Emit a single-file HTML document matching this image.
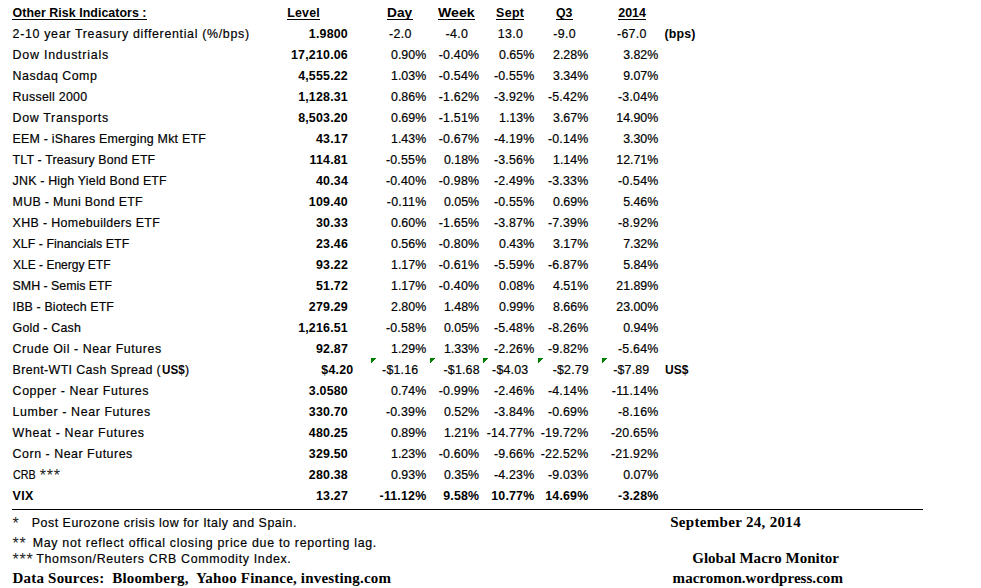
<!DOCTYPE html>
<html><head><meta charset="utf-8"><title>Other Risk Indicators</title>
<style>
html,body{margin:0;padding:0;background:#fff;}
body{width:981px;height:588px;position:relative;overflow:hidden;font-family:"Liberation Sans",sans-serif;color:#000;}
.t{position:absolute;white-space:pre;line-height:1;margin:0;padding:0;transform-origin:0 50%;}
.s{font-family:"Liberation Sans",sans-serif;-webkit-text-stroke:0.18px #000;}
.s.b{-webkit-text-stroke:0;}
.r{font-family:"Liberation Serif",serif;}
.b{font-weight:bold;}
.u{border-bottom:1.3px solid #000;}
.hl{position:absolute;left:12px;top:509px;width:910.6px;height:1px;background:#000;}
.g{position:absolute;display:block;}
</style></head><body>
<div style="position:absolute;left:12.20px;top:19px;width:134.80px;height:1px;background:#000"></div>
<div class="t s b" style="left:12.60px;top:7.10px;font-size:12.40px;letter-spacing:0.046px;">Other Risk Indicators :</div>
<div style="position:absolute;left:286.90px;top:19px;width:33.20px;height:1px;background:#000"></div>
<div class="t s b" style="left:287.30px;top:7.10px;font-size:12.40px;letter-spacing:0.173px;">Level</div>
<div style="position:absolute;left:387.00px;top:19px;width:26.00px;height:1px;background:#000"></div>
<div class="t s b" style="left:387.40px;top:7.10px;font-size:12.40px;transform:scaleX(1.1078);">Day</div>
<div style="position:absolute;left:437.90px;top:19px;width:37.40px;height:1px;background:#000"></div>
<div class="t s b" style="left:438.30px;top:7.10px;font-size:12.40px;transform:scaleX(1.1378);">Week</div>
<div style="position:absolute;left:495.70px;top:19px;width:28.70px;height:1px;background:#000"></div>
<div class="t s b" style="left:496.10px;top:7.10px;font-size:12.40px;letter-spacing:0.343px;">Sept</div>
<div style="position:absolute;left:555.90px;top:19px;width:17.20px;height:1px;background:#000"></div>
<div class="t s b" style="left:556.30px;top:7.10px;font-size:12.40px;transform:scaleX(0.9915);">Q3</div>
<div style="position:absolute;left:617.90px;top:19px;width:28.40px;height:1px;background:#000"></div>
<div class="t s b" style="left:618.30px;top:7.10px;font-size:12.40px;letter-spacing:0.005px;">2014</div>
<div class="t s" style="left:12.60px;top:28.10px;font-size:12.40px;letter-spacing:0.682px;">2-10 year Treasury differential (%/bps)</div>
<div class="t s b" style="left:308.87px;top:28.10px;font-size:12.40px;letter-spacing:0.200px;">1.9800</div>
<div class="t s" style="left:389.07px;top:28.10px;font-size:12.40px;letter-spacing:0.320px;">-2.0</div>
<div class="t s" style="left:445.47px;top:28.10px;font-size:12.40px;letter-spacing:0.320px;">-4.0</div>
<div class="t s" style="left:497.81px;top:28.10px;font-size:12.40px;letter-spacing:0.320px;">13.0</div>
<div class="t s" style="left:553.27px;top:28.10px;font-size:12.40px;letter-spacing:0.320px;">-9.0</div>
<div class="t s" style="left:616.96px;top:28.10px;font-size:12.40px;letter-spacing:0.320px;">-67.0</div>
<div class="t s" style="left:12.60px;top:49.10px;font-size:12.40px;letter-spacing:0.774px;">Dow Industrials</div>
<div class="t s b" style="left:291.04px;top:49.10px;font-size:12.40px;letter-spacing:0.200px;">17,210.06</div>
<div class="t s" style="left:391.04px;top:49.10px;font-size:12.40px;">0.90%</div>
<div class="t s" style="left:438.81px;top:49.10px;font-size:12.40px;letter-spacing:0.200px;">-0.40%</div>
<div class="t s" style="left:499.04px;top:49.10px;font-size:12.40px;">0.65%</div>
<div class="t s" style="left:553.04px;top:49.10px;font-size:12.40px;">2.28%</div>
<div class="t s" style="left:623.14px;top:49.10px;font-size:12.40px;">3.82%</div>
<div class="t s" style="left:12.60px;top:70.10px;font-size:12.40px;letter-spacing:0.504px;">Nasdaq Comp</div>
<div class="t s b" style="left:298.13px;top:70.10px;font-size:12.40px;letter-spacing:0.200px;">4,555.22</div>
<div class="t s" style="left:391.04px;top:70.10px;font-size:12.40px;">1.03%</div>
<div class="t s" style="left:438.81px;top:70.10px;font-size:12.40px;letter-spacing:0.200px;">-0.54%</div>
<div class="t s" style="left:493.91px;top:70.10px;font-size:12.40px;letter-spacing:0.200px;">-0.55%</div>
<div class="t s" style="left:553.04px;top:70.10px;font-size:12.40px;">3.34%</div>
<div class="t s" style="left:623.14px;top:70.10px;font-size:12.40px;">9.07%</div>
<div class="t s" style="left:12.60px;top:91.10px;font-size:12.40px;letter-spacing:0.265px;">Russell 2000</div>
<div class="t s b" style="left:298.13px;top:91.10px;font-size:12.40px;letter-spacing:0.200px;">1,128.31</div>
<div class="t s" style="left:391.04px;top:91.10px;font-size:12.40px;">0.86%</div>
<div class="t s" style="left:438.81px;top:91.10px;font-size:12.40px;letter-spacing:0.200px;">-1.62%</div>
<div class="t s" style="left:493.91px;top:91.10px;font-size:12.40px;letter-spacing:0.200px;">-3.92%</div>
<div class="t s" style="left:547.91px;top:91.10px;font-size:12.40px;letter-spacing:0.200px;">-5.42%</div>
<div class="t s" style="left:618.01px;top:91.10px;font-size:12.40px;letter-spacing:0.200px;">-3.04%</div>
<div class="t s" style="left:12.60px;top:112.10px;font-size:12.40px;letter-spacing:0.675px;">Dow Transports</div>
<div class="t s b" style="left:298.13px;top:112.10px;font-size:12.40px;letter-spacing:0.200px;">8,503.20</div>
<div class="t s" style="left:391.04px;top:112.10px;font-size:12.40px;">0.69%</div>
<div class="t s" style="left:438.81px;top:112.10px;font-size:12.40px;letter-spacing:0.200px;">-1.51%</div>
<div class="t s" style="left:499.04px;top:112.10px;font-size:12.40px;">1.13%</div>
<div class="t s" style="left:553.04px;top:112.10px;font-size:12.40px;">3.67%</div>
<div class="t s" style="left:616.24px;top:112.10px;font-size:12.40px;">14.90%</div>
<div class="t s" style="left:12.60px;top:133.10px;font-size:12.40px;letter-spacing:0.226px;">EEM - iShares Emerging Mkt ETF</div>
<div class="t s b" style="left:315.97px;top:133.10px;font-size:12.40px;letter-spacing:0.200px;">43.17</div>
<div class="t s" style="left:391.04px;top:133.10px;font-size:12.40px;">1.43%</div>
<div class="t s" style="left:438.81px;top:133.10px;font-size:12.40px;letter-spacing:0.200px;">-0.67%</div>
<div class="t s" style="left:493.91px;top:133.10px;font-size:12.40px;letter-spacing:0.200px;">-4.19%</div>
<div class="t s" style="left:547.91px;top:133.10px;font-size:12.40px;letter-spacing:0.200px;">-0.14%</div>
<div class="t s" style="left:623.14px;top:133.10px;font-size:12.40px;">3.30%</div>
<div class="t s" style="left:12.60px;top:154.10px;font-size:12.40px;letter-spacing:0.149px;">TLT - Treasury Bond ETF</div>
<div class="t s b" style="left:309.56px;top:154.10px;font-size:12.40px;letter-spacing:0.200px;">114.81</div>
<div class="t s" style="left:385.91px;top:154.10px;font-size:12.40px;letter-spacing:0.200px;">-0.55%</div>
<div class="t s" style="left:443.94px;top:154.10px;font-size:12.40px;">0.18%</div>
<div class="t s" style="left:493.91px;top:154.10px;font-size:12.40px;letter-spacing:0.200px;">-3.56%</div>
<div class="t s" style="left:553.04px;top:154.10px;font-size:12.40px;">1.14%</div>
<div class="t s" style="left:616.24px;top:154.10px;font-size:12.40px;">12.71%</div>
<div class="t s" style="left:12.60px;top:175.10px;font-size:12.40px;letter-spacing:0.194px;">JNK - High Yield Bond ETF</div>
<div class="t s b" style="left:315.97px;top:175.10px;font-size:12.40px;letter-spacing:0.200px;">40.34</div>
<div class="t s" style="left:385.91px;top:175.10px;font-size:12.40px;letter-spacing:0.200px;">-0.40%</div>
<div class="t s" style="left:438.81px;top:175.10px;font-size:12.40px;letter-spacing:0.200px;">-0.98%</div>
<div class="t s" style="left:493.91px;top:175.10px;font-size:12.40px;letter-spacing:0.200px;">-2.49%</div>
<div class="t s" style="left:547.91px;top:175.10px;font-size:12.40px;letter-spacing:0.200px;">-3.33%</div>
<div class="t s" style="left:618.01px;top:175.10px;font-size:12.40px;letter-spacing:0.200px;">-0.54%</div>
<div class="t s" style="left:12.60px;top:196.10px;font-size:12.40px;letter-spacing:0.304px;">MUB - Muni Bond ETF</div>
<div class="t s b" style="left:308.87px;top:196.10px;font-size:12.40px;letter-spacing:0.200px;">109.40</div>
<div class="t s" style="left:386.83px;top:196.10px;font-size:12.40px;letter-spacing:0.200px;">-0.11%</div>
<div class="t s" style="left:443.94px;top:196.10px;font-size:12.40px;">0.05%</div>
<div class="t s" style="left:493.91px;top:196.10px;font-size:12.40px;letter-spacing:0.200px;">-0.55%</div>
<div class="t s" style="left:553.04px;top:196.10px;font-size:12.40px;">0.69%</div>
<div class="t s" style="left:623.14px;top:196.10px;font-size:12.40px;">5.46%</div>
<div class="t s" style="left:12.60px;top:217.10px;font-size:12.40px;letter-spacing:0.353px;">XHB - Homebuilders ETF</div>
<div class="t s b" style="left:315.97px;top:217.10px;font-size:12.40px;letter-spacing:0.200px;">30.33</div>
<div class="t s" style="left:391.04px;top:217.10px;font-size:12.40px;">0.60%</div>
<div class="t s" style="left:438.81px;top:217.10px;font-size:12.40px;letter-spacing:0.200px;">-1.65%</div>
<div class="t s" style="left:493.91px;top:217.10px;font-size:12.40px;letter-spacing:0.200px;">-3.87%</div>
<div class="t s" style="left:547.91px;top:217.10px;font-size:12.40px;letter-spacing:0.200px;">-7.39%</div>
<div class="t s" style="left:618.01px;top:217.10px;font-size:12.40px;letter-spacing:0.200px;">-8.92%</div>
<div class="t s" style="left:12.60px;top:238.10px;font-size:12.40px;letter-spacing:0.013px;">XLF - Financials ETF</div>
<div class="t s b" style="left:315.97px;top:238.10px;font-size:12.40px;letter-spacing:0.200px;">23.46</div>
<div class="t s" style="left:391.04px;top:238.10px;font-size:12.40px;">0.56%</div>
<div class="t s" style="left:438.81px;top:238.10px;font-size:12.40px;letter-spacing:0.200px;">-0.80%</div>
<div class="t s" style="left:499.04px;top:238.10px;font-size:12.40px;">0.43%</div>
<div class="t s" style="left:553.04px;top:238.10px;font-size:12.40px;">3.17%</div>
<div class="t s" style="left:623.14px;top:238.10px;font-size:12.40px;">7.32%</div>
<div class="t s" style="left:12.60px;top:259.10px;font-size:12.40px;transform:scaleX(0.9701);">XLE - Energy ETF</div>
<div class="t s b" style="left:315.97px;top:259.10px;font-size:12.40px;letter-spacing:0.200px;">93.22</div>
<div class="t s" style="left:391.04px;top:259.10px;font-size:12.40px;">1.17%</div>
<div class="t s" style="left:438.81px;top:259.10px;font-size:12.40px;letter-spacing:0.200px;">-0.61%</div>
<div class="t s" style="left:493.91px;top:259.10px;font-size:12.40px;letter-spacing:0.200px;">-5.59%</div>
<div class="t s" style="left:547.91px;top:259.10px;font-size:12.40px;letter-spacing:0.200px;">-6.87%</div>
<div class="t s" style="left:623.14px;top:259.10px;font-size:12.40px;">5.84%</div>
<div class="t s" style="left:12.60px;top:280.10px;font-size:12.40px;letter-spacing:-0.021px;">SMH - Semis ETF</div>
<div class="t s b" style="left:315.97px;top:280.10px;font-size:12.40px;letter-spacing:0.200px;">51.72</div>
<div class="t s" style="left:391.04px;top:280.10px;font-size:12.40px;">1.17%</div>
<div class="t s" style="left:438.81px;top:280.10px;font-size:12.40px;letter-spacing:0.200px;">-0.40%</div>
<div class="t s" style="left:499.04px;top:280.10px;font-size:12.40px;">0.08%</div>
<div class="t s" style="left:553.04px;top:280.10px;font-size:12.40px;">4.51%</div>
<div class="t s" style="left:616.24px;top:280.10px;font-size:12.40px;">21.89%</div>
<div class="t s" style="left:12.60px;top:301.10px;font-size:12.40px;letter-spacing:0.136px;">IBB - Biotech ETF</div>
<div class="t s b" style="left:308.87px;top:301.10px;font-size:12.40px;letter-spacing:0.200px;">279.29</div>
<div class="t s" style="left:391.04px;top:301.10px;font-size:12.40px;">2.80%</div>
<div class="t s" style="left:443.94px;top:301.10px;font-size:12.40px;">1.48%</div>
<div class="t s" style="left:499.04px;top:301.10px;font-size:12.40px;">0.99%</div>
<div class="t s" style="left:553.04px;top:301.10px;font-size:12.40px;">8.66%</div>
<div class="t s" style="left:616.24px;top:301.10px;font-size:12.40px;">23.00%</div>
<div class="t s" style="left:12.60px;top:322.10px;font-size:12.40px;letter-spacing:0.214px;">Gold - Cash</div>
<div class="t s b" style="left:298.13px;top:322.10px;font-size:12.40px;letter-spacing:0.200px;">1,216.51</div>
<div class="t s" style="left:385.91px;top:322.10px;font-size:12.40px;letter-spacing:0.200px;">-0.58%</div>
<div class="t s" style="left:443.94px;top:322.10px;font-size:12.40px;">0.05%</div>
<div class="t s" style="left:493.91px;top:322.10px;font-size:12.40px;letter-spacing:0.200px;">-5.48%</div>
<div class="t s" style="left:547.91px;top:322.10px;font-size:12.40px;letter-spacing:0.200px;">-8.26%</div>
<div class="t s" style="left:623.14px;top:322.10px;font-size:12.40px;">0.94%</div>
<div class="t s" style="left:12.60px;top:343.10px;font-size:12.40px;letter-spacing:0.559px;">Crude Oil - Near Futures</div>
<div class="t s b" style="left:315.97px;top:343.10px;font-size:12.40px;letter-spacing:0.200px;">92.87</div>
<div class="t s" style="left:391.04px;top:343.10px;font-size:12.40px;">1.29%</div>
<div class="t s" style="left:443.94px;top:343.10px;font-size:12.40px;">1.33%</div>
<div class="t s" style="left:493.91px;top:343.10px;font-size:12.40px;letter-spacing:0.200px;">-2.26%</div>
<div class="t s" style="left:547.91px;top:343.10px;font-size:12.40px;letter-spacing:0.200px;">-9.82%</div>
<div class="t s" style="left:618.01px;top:343.10px;font-size:12.40px;letter-spacing:0.200px;">-5.64%</div>
<div class="t s" style="left:12.60px;top:364.10px;font-size:12.40px;letter-spacing:0.378px;">Brent-WTI Cash Spread (</div>
<div class="t s b" style="left:161.50px;top:364.10px;font-size:12.40px;transform:scaleX(0.9410);">US$</div>
<div class="t s" style="left:184.90px;top:364.10px;font-size:12.40px;">)</div>
<div class="t s b" style="left:321.37px;top:364.10px;font-size:12.40px;letter-spacing:0.200px;">$4.20</div>
<div class="t s" style="left:382.10px;top:364.10px;font-size:12.40px;letter-spacing:0.188px;">-$1.16</div>
<div class="t s" style="left:443.50px;top:364.10px;font-size:12.40px;letter-spacing:0.188px;">-$1.68</div>
<div class="t s" style="left:492.10px;top:364.10px;font-size:12.40px;letter-spacing:0.188px;">-$4.03</div>
<div class="t s" style="left:552.70px;top:364.10px;font-size:12.40px;letter-spacing:0.188px;">-$2.79</div>
<div class="t s" style="left:613.20px;top:364.10px;font-size:12.40px;letter-spacing:0.188px;">-$7.89</div>
<div class="t s" style="left:12.60px;top:385.10px;font-size:12.40px;letter-spacing:0.593px;">Copper - Near Futures</div>
<div class="t s b" style="left:308.87px;top:385.10px;font-size:12.40px;letter-spacing:0.200px;">3.0580</div>
<div class="t s" style="left:391.04px;top:385.10px;font-size:12.40px;">0.74%</div>
<div class="t s" style="left:438.81px;top:385.10px;font-size:12.40px;letter-spacing:0.200px;">-0.99%</div>
<div class="t s" style="left:493.91px;top:385.10px;font-size:12.40px;letter-spacing:0.200px;">-2.46%</div>
<div class="t s" style="left:547.91px;top:385.10px;font-size:12.40px;letter-spacing:0.200px;">-4.14%</div>
<div class="t s" style="left:611.83px;top:385.10px;font-size:12.40px;letter-spacing:0.200px;">-11.14%</div>
<div class="t s" style="left:12.60px;top:406.10px;font-size:12.40px;letter-spacing:0.609px;">Lumber - Near Futures</div>
<div class="t s b" style="left:308.87px;top:406.10px;font-size:12.40px;letter-spacing:0.200px;">330.70</div>
<div class="t s" style="left:385.91px;top:406.10px;font-size:12.40px;letter-spacing:0.200px;">-0.39%</div>
<div class="t s" style="left:443.94px;top:406.10px;font-size:12.40px;">0.52%</div>
<div class="t s" style="left:493.91px;top:406.10px;font-size:12.40px;letter-spacing:0.200px;">-3.84%</div>
<div class="t s" style="left:547.91px;top:406.10px;font-size:12.40px;letter-spacing:0.200px;">-0.69%</div>
<div class="t s" style="left:618.01px;top:406.10px;font-size:12.40px;letter-spacing:0.200px;">-8.16%</div>
<div class="t s" style="left:12.60px;top:427.10px;font-size:12.40px;letter-spacing:0.646px;">Wheat - Near Futures</div>
<div class="t s b" style="left:308.87px;top:427.10px;font-size:12.40px;letter-spacing:0.200px;">480.25</div>
<div class="t s" style="left:391.04px;top:427.10px;font-size:12.40px;">0.89%</div>
<div class="t s" style="left:443.94px;top:427.10px;font-size:12.40px;">1.21%</div>
<div class="t s" style="left:486.81px;top:427.10px;font-size:12.40px;letter-spacing:0.200px;">-14.77%</div>
<div class="t s" style="left:540.81px;top:427.10px;font-size:12.40px;letter-spacing:0.200px;">-19.72%</div>
<div class="t s" style="left:610.91px;top:427.10px;font-size:12.40px;letter-spacing:0.200px;">-20.65%</div>
<div class="t s" style="left:12.60px;top:448.10px;font-size:12.40px;letter-spacing:0.530px;">Corn - Near Futures</div>
<div class="t s b" style="left:308.87px;top:448.10px;font-size:12.40px;letter-spacing:0.200px;">329.50</div>
<div class="t s" style="left:391.04px;top:448.10px;font-size:12.40px;">1.23%</div>
<div class="t s" style="left:438.81px;top:448.10px;font-size:12.40px;letter-spacing:0.200px;">-0.60%</div>
<div class="t s" style="left:493.91px;top:448.10px;font-size:12.40px;letter-spacing:0.200px;">-9.66%</div>
<div class="t s" style="left:540.81px;top:448.10px;font-size:12.40px;letter-spacing:0.200px;">-22.52%</div>
<div class="t s" style="left:610.91px;top:448.10px;font-size:12.40px;letter-spacing:0.200px;">-21.92%</div>
<div class="t s" style="left:12.60px;top:469.10px;font-size:12.40px;transform:scaleX(0.8671);">CRB</div>
<div class="t s" style="left:39.64px;top:467.86px;font-size:16.00px;-webkit-text-stroke:0;color:#222;letter-spacing:0.812px;">***</div>
<div class="t s b" style="left:308.87px;top:469.10px;font-size:12.40px;letter-spacing:0.200px;">280.38</div>
<div class="t s" style="left:391.04px;top:469.10px;font-size:12.40px;">0.93%</div>
<div class="t s" style="left:443.94px;top:469.10px;font-size:12.40px;">0.35%</div>
<div class="t s" style="left:493.91px;top:469.10px;font-size:12.40px;letter-spacing:0.200px;">-4.23%</div>
<div class="t s" style="left:547.91px;top:469.10px;font-size:12.40px;letter-spacing:0.200px;">-9.03%</div>
<div class="t s" style="left:623.14px;top:469.10px;font-size:12.40px;">0.07%</div>
<div class="t s b" style="left:12.60px;top:490.10px;font-size:12.40px;letter-spacing:0.307px;">VIX</div>
<div class="t s b" style="left:315.97px;top:490.10px;font-size:12.40px;letter-spacing:0.200px;">13.27</div>
<div class="t s b" style="left:379.62px;top:490.10px;font-size:12.40px;letter-spacing:0.180px;">-11.12%</div>
<div class="t s b" style="left:443.22px;top:490.10px;font-size:12.40px;letter-spacing:0.180px;">9.58%</div>
<div class="t s b" style="left:491.24px;top:490.10px;font-size:12.40px;letter-spacing:0.180px;">10.77%</div>
<div class="t s b" style="left:545.24px;top:490.10px;font-size:12.40px;letter-spacing:0.180px;">14.69%</div>
<div class="t s b" style="left:618.11px;top:490.10px;font-size:12.40px;letter-spacing:0.180px;">-3.28%</div>
<div class="t s b" style="left:664.50px;top:28.10px;font-size:12.40px;letter-spacing:0.174px;">(bps)</div>
<div class="t s b" style="left:664.60px;top:364.10px;font-size:12.40px;transform:scaleX(0.9701);">US$</div>
<div class="t s" style="left:12.54px;top:515.86px;font-size:16.00px;-webkit-text-stroke:0;color:#222;">*</div>
<div class="t s" style="left:31.80px;top:517.10px;font-size:12.40px;letter-spacing:0.518px;">Post Eurozone crisis low for Italy and Spain.</div>
<div class="t s" style="left:12.54px;top:535.86px;font-size:16.00px;-webkit-text-stroke:0;color:#222;letter-spacing:0.811px;">**</div>
<div class="t s" style="left:32.70px;top:537.10px;font-size:12.40px;letter-spacing:0.703px;">May not reflect offical closing price due to reporting lag.</div>
<div class="t s" style="left:12.54px;top:551.86px;font-size:16.00px;-webkit-text-stroke:0;color:#222;letter-spacing:0.812px;">***</div>
<div class="t s" style="left:36.30px;top:553.10px;font-size:12.40px;letter-spacing:0.661px;">Thomson/Reuters CRB Commodity Index.</div>
<div class="t r b" style="left:12.60px;top:571.04px;font-size:15.00px;letter-spacing:0.187px;">Data Sources:  Bloomberg,  Yahoo Finance, investing.com</div>
<div class="t r b" style="left:670.20px;top:515.04px;font-size:15.00px;letter-spacing:0.316px;">September 24, 2014</div>
<div class="t r b" style="left:692.20px;top:551.04px;font-size:15.00px;letter-spacing:0.023px;">Global Macro Monitor</div>
<div class="t r b" style="left:672.60px;top:571.04px;font-size:15.00px;letter-spacing:0.042px;">macromon.wordpress.com</div>
<div class="hl"></div>
<svg class="g" style="left:371px;top:358px" width="5" height="5" viewBox="0 0 5 5" shape-rendering="crispEdges"><path d="M0 0h5v1h-1v1h-1v1h-1v1h-1v1h-1z" fill="#008000"/></svg>
<svg class="g" style="left:430px;top:358px" width="5" height="5" viewBox="0 0 5 5" shape-rendering="crispEdges"><path d="M0 0h5v1h-1v1h-1v1h-1v1h-1v1h-1z" fill="#008000"/></svg>
<svg class="g" style="left:483px;top:358px" width="5" height="5" viewBox="0 0 5 5" shape-rendering="crispEdges"><path d="M0 0h5v1h-1v1h-1v1h-1v1h-1v1h-1z" fill="#008000"/></svg>
<svg class="g" style="left:538px;top:358px" width="5" height="5" viewBox="0 0 5 5" shape-rendering="crispEdges"><path d="M0 0h5v1h-1v1h-1v1h-1v1h-1v1h-1z" fill="#008000"/></svg>
<svg class="g" style="left:602px;top:358px" width="5" height="5" viewBox="0 0 5 5" shape-rendering="crispEdges"><path d="M0 0h5v1h-1v1h-1v1h-1v1h-1v1h-1z" fill="#008000"/></svg>
</body></html>
